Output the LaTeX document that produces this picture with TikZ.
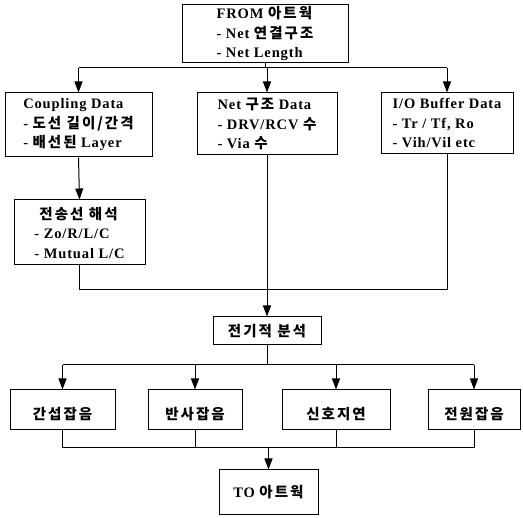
\documentclass[tikz,border=0pt]{standalone}
\usepackage{fontspec}
\setmainfont{Liberation Serif}[LetterSpace=6]
\newfontfamily\hangulfont{Noto Sans CJK KR}[LetterSpace=14]
\newcommand{\hg}[1]{{\hangulfont #1}}
\usepackage{tikz}
\usetikzlibrary{arrows.meta,positioning}

\begin{document}
\begin{tikzpicture}[x=1pt,y=-1pt,
  box/.style={draw,line width=1pt,align=left,inner sep=2pt,font=\fontsize{14.5}{19.5}\selectfont\bfseries},
  low/.style={text height=22pt,text depth=2pt},
  ln/.style={line width=1pt},
  arr/.style={line width=1pt,-{Triangle[length=11pt,width=8pt]}}]
\useasboundingbox (0,0) rectangle (523,518);
\node[box,minimum width=166pt,minimum height=57pt] (from) at (265,33.5) {FROM \hg{아트웍}\\ - Net \hg{연결구조}\\ - Net Length};
\node[box,minimum width=147pt,minimum height=64pt] (cpl) at (78.5,125) {Coupling Data\\- \hg{도선 길이/간격}\\- \hg{배선된} Layer};
\node[box,minimum width=140pt,minimum height=62pt] (net) at (267,124) {Net \hg{구조} Data\\- DRV/RCV \hg{수}\\- Via \hg{수}};
\node[box,minimum width=132pt,minimum height=61pt] (io) at (447,123.5) {I/O Buffer Data\\- Tr / Tf, Ro\\- Vih/Vil etc};
\node[box,minimum width=131pt,minimum height=65pt] (tl) at (79.5,232.5) {\hspace{5pt}\hg{전송선 해석}\\- Zo/R/L/C\\- Mutual L/C};
\node[box,minimum width=108pt,minimum height=28pt] (el) at (267,331) {\hg{전기적 분석}};
\node[box,low,minimum width=105pt,minimum height=40pt] (n1) at (62.5,410) {\hg{간섭잡음}};
\node[box,low,minimum width=94pt,minimum height=40pt] (n2) at (195,410) {\hg{반사잡음}};
\node[box,low,minimum width=108pt,minimum height=40pt] (n3) at (336,410) {\hg{신호지연}};
\node[box,low,minimum width=92pt,minimum height=40pt] (n4) at (474,410) {\hg{전원잡음}};
\node[box,minimum width=99pt,minimum height=45pt] (to) at (268.5,492.5) {TO \hg{아트웍}};
\coordinate (b1) at (265,68);
\coordinate (b2) at (267,290);
\coordinate (b3) at (267,365);
\coordinate (b4) at (268.5,448);
\draw[ln] (from.south) -- (b1);
\draw[ln] (cpl.north |- b1) -- (io.north |- b1);
\foreach \n in {cpl,net,io} \draw[arr] (\n.north |- b1) -- (\n.north);
\draw[arr] (cpl.south) -- (tl.north);
\draw[ln] (tl.south) |- (io.south |- b2) -- (io.south);
\draw[arr] (net.south) -- (el.north);
\draw[ln] (el.south) -- (b3);
\draw[ln] (n1.north |- b3) -- (n4.north |- b3);
\foreach \n in {n1,n2,n3,n4} \draw[arr] (\n.north |- b3) -- (\n.north);
\draw[ln] (n1.south) |- (n4.south |- b4) -- (n4.south);
\foreach \n in {n2,n3} \draw[ln] (\n.south) -- (\n.south |- b4);
\draw[arr] (b4) -- (to.north);
\end{tikzpicture}
\end{document}
